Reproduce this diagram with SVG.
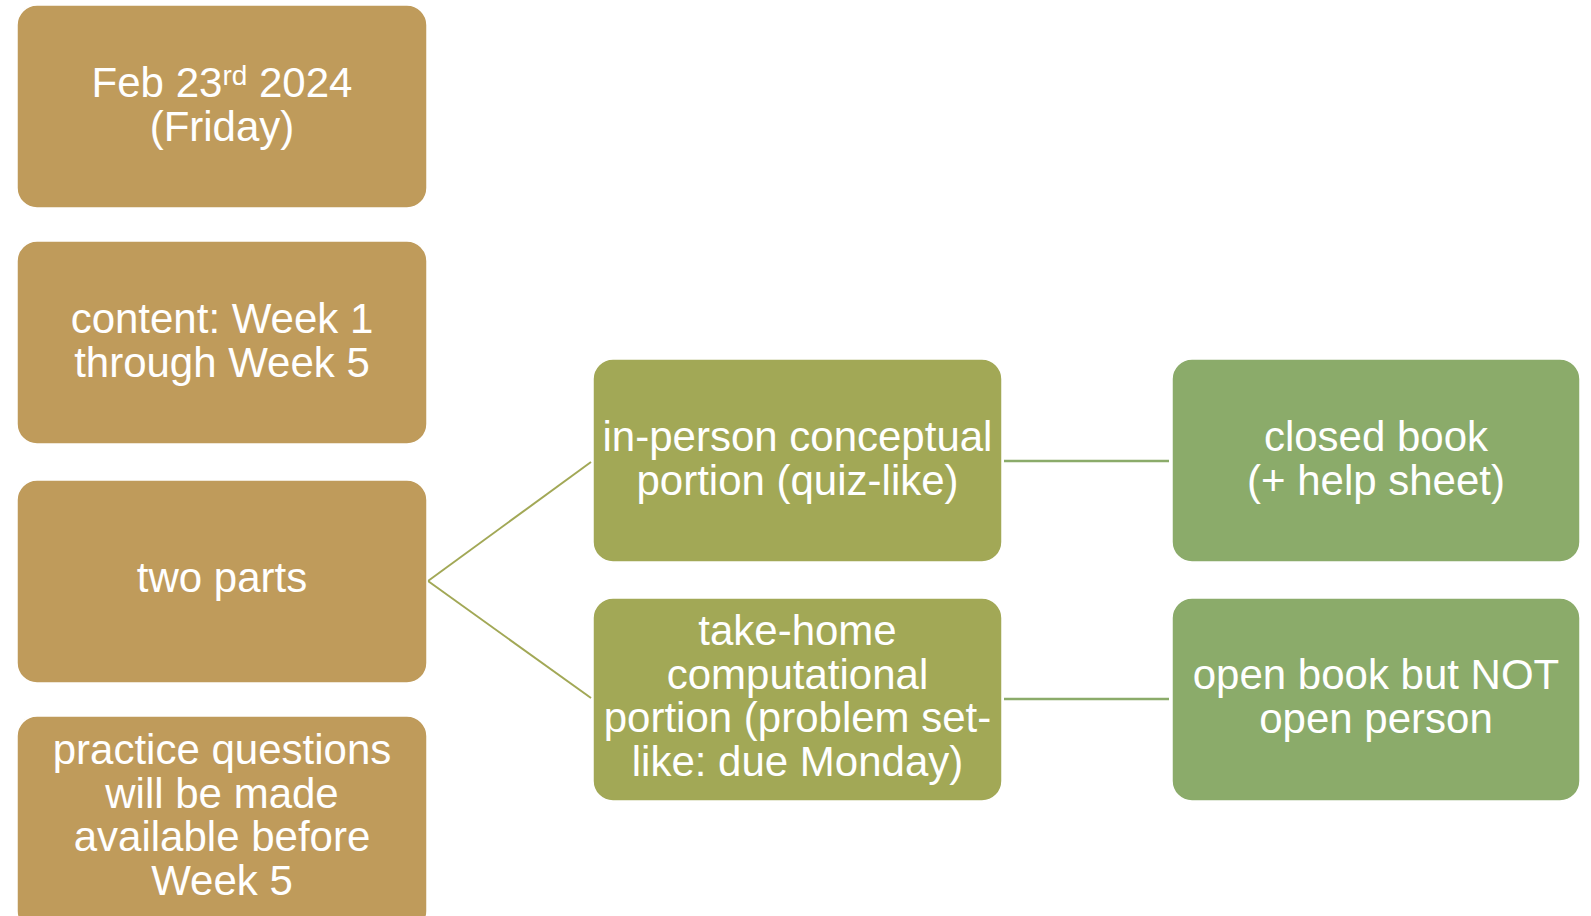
<svg xmlns="http://www.w3.org/2000/svg" width="1591" height="916" viewBox="0 0 1591 916">
<style>
.box{stroke:#ffffff;stroke-width:1.5}
.gold{fill:#BF9B5B}
.olive{fill:#A2A856}
.green{fill:#8BAB6A}
.t{font-family:"Liberation Sans",Arial,Helvetica,sans-serif;font-size:42px;fill:#ffffff;text-anchor:middle}
.c1{stroke:#A2A856;stroke-width:2;fill:none}
.c2{stroke:#8BAB6A;stroke-width:2.5;fill:none}
</style>
<rect width="1591" height="916" fill="#ffffff"/>
<g id="connectors">
<line class="c1" x1="428" y1="581" x2="591" y2="462"/>
<line class="c1" x1="428" y1="581" x2="591" y2="698"/>
<line class="c2" x1="1004" y1="461" x2="1169" y2="461"/>
<line class="c2" x1="1004" y1="699" x2="1169" y2="699"/>
</g>
<g id="date">
<rect class="box gold" x="17" y="5" width="410" height="203" rx="20"/>
<text class="t" x="222" y="97">Feb 23<tspan font-size="28" dy="-12">rd</tspan><tspan dy="12"> 2024</tspan></text>
<text class="t" x="222" y="140.5">(Friday)</text>
</g>
<g id="content">
<rect class="box gold" x="17" y="241" width="410" height="203" rx="20"/>
<text class="t" x="222" y="333">content: Week 1</text>
<text class="t" x="222" y="376.5">through Week 5</text>
</g>
<g id="twoparts">
<rect class="box gold" x="17" y="480" width="410" height="203" rx="20"/>
<text class="t" x="222" y="592">two parts</text>
</g>
<g id="practice">
<rect class="box gold" x="17" y="716" width="410" height="215" rx="20"/>
<text class="t" x="222" y="764">practice questions</text>
<text class="t" x="222" y="807.5">will be made</text>
<text class="t" x="222" y="851">available before</text>
<text class="t" x="222" y="894.5">Week 5</text>
</g>
<g id="inperson">
<rect class="box olive" x="593" y="359" width="409" height="203" rx="20"/>
<text class="t" x="797.5" y="451">in-person conceptual</text>
<text class="t" x="797.5" y="494.5">portion (quiz-like)</text>
</g>
<g id="takehome">
<rect class="box olive" x="593" y="598" width="409" height="203" rx="20"/>
<text class="t" x="797.5" y="645">take-home</text>
<text class="t" x="797.5" y="688.5">computational</text>
<text class="t" x="797.5" y="732">portion (problem set-</text>
<text class="t" x="797.5" y="775.5">like: due Monday)</text>
</g>
<g id="closedbook">
<rect class="box green" x="1172" y="359" width="408" height="203" rx="20"/>
<text class="t" x="1376" y="451">closed book</text>
<text class="t" x="1376" y="494.5">(+ help sheet)</text>
</g>
<g id="openbook">
<rect class="box green" x="1172" y="598" width="408" height="203" rx="20"/>
<text class="t" x="1376" y="689">open book but NOT</text>
<text class="t" x="1376" y="732.5">open person</text>
</g>
</svg>
